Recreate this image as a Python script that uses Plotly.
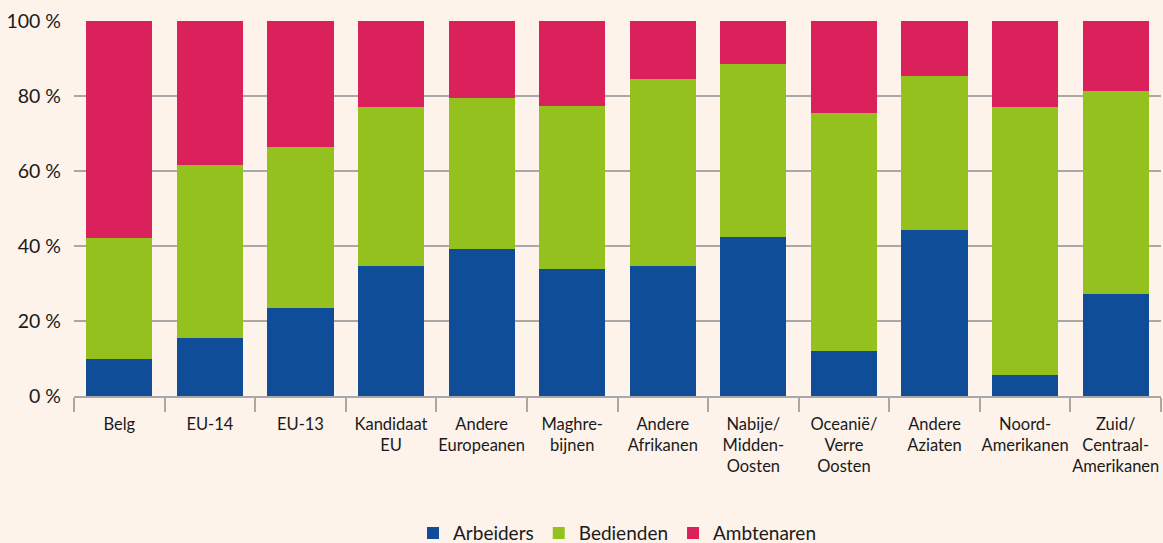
import plotly.graph_objects as go

categories = ["Belg", "EU-14", "EU-13", "Kandidaat EU", "Andere Europeanen",
              "Maghrebijnen", "Andere Afrikanen", "Nabije/Midden-Oosten",
              "Oceanië/Verre Oosten", "Andere Aziaten", "Noord-Amerikanen",
              "Zuid/Centraal-Amerikanen"]
tick_labels = ["Belg", "EU-14", "EU-13", "Kandidaat<br>EU", "Andere<br>Europeanen",
               "Maghre-<br>bijnen", "Andere<br>Afrikanen", "Nabije/<br>Midden-<br>Oosten",
               "Oceanië/<br>Verre<br>Oosten", "Andere<br>Aziaten", "Noord-<br>Amerikanen",
               "Zuid/<br>Centraal-<br>Amerikanen"]

arbeiders = [9.9, 15.5, 23.5, 34.7, 39.2, 33.9, 34.7, 42.4, 12.0, 44.3, 5.6, 27.2]
bedienden = [32.2, 46.1, 42.9, 42.4, 40.3, 43.4, 49.8, 46.2, 63.5, 41.0, 71.5, 54.1]
ambtenaren = [57.9, 38.4, 33.6, 22.9, 20.5, 22.7, 15.5, 11.4, 24.5, 14.7, 22.9, 18.7]

y_ticks = [0, 20, 40, 60, 80, 100]
y_tick_labels = ["0 %", "20 %", "40 %", "60 %", "80 %", "100 %"]

BG = "#fdf3eb"
FONT = "Lato, 'Open Sans', sans-serif"

fig = go.Figure()
fig.add_trace(go.Bar(x=categories, y=arbeiders, name="Arbeiders", marker_color="#0f4d98", marker_line_width=0))
fig.add_trace(go.Bar(x=categories, y=bedienden, name="Bedienden", marker_color="#95c11f", marker_line_width=0))
fig.add_trace(go.Bar(x=categories, y=ambtenaren, name="Ambtenaren", marker_color="#da215c", marker_line_width=0))

fig.update_layout(
    width=1163, height=543,
    barmode="stack", bargap=0.27,
    paper_bgcolor=BG, plot_bgcolor=BG,
    margin=dict(l=74, r=2, t=21, b=147, autoexpand=False),
    font=dict(family=FONT, color="#1a1a1a"),
    showlegend=True,
    legend=dict(orientation="h", x=0.5, xanchor="center", y=-0.315, yanchor="top",
                font=dict(size=19, family=FONT, color="#1a1a1a"),
                traceorder="normal", itemwidth=30, bgcolor="rgba(0,0,0,0)"),
)
fig.update_xaxes(
    tickmode="array", tickvals=categories, ticktext=tick_labels,
    tickson="boundaries", ticks="outside", ticklen=14, tickcolor="#a8a8a8", tickwidth=1.5,
    showline=True, linecolor="#a8a8a8", linewidth=1.5,
    showgrid=False, tickfont=dict(size=16.5, family=FONT, color="#1a1a1a"),
    ticklabelstandoff=12, tickangle=0, automargin=False,
    range=[-0.5, 11.5],
)
fig.update_yaxes(
    range=[0, 100], tickmode="array", tickvals=y_ticks, ticktext=y_tick_labels,
    showgrid=True, gridcolor="#a8a8a8", gridwidth=1.5, zeroline=False,
    showline=False, ticks="", ticklabelstandoff=12, automargin=False,
    tickfont=dict(size=19.5, family=FONT, color="#1a1a1a"),
)

fig.write_html(
    "out.html",
    config={"displayModeBar": False},
    post_script="document.body.style.margin='0';document.body.style.background='" + BG + "';",
)
